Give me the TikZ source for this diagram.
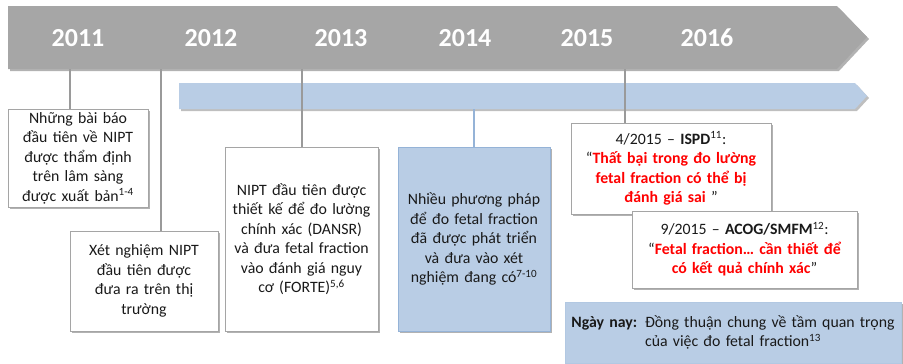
\documentclass[tikz,border=0pt]{standalone}
\usepackage{fontspec}
\setmainfont{Carlito}
\usetikzlibrary{shadows}
\definecolor{axisgray}{HTML}{A6A6A6}
\definecolor{barblue}{HTML}{B9CDE5}
\definecolor{edgeblue}{HTML}{95B3D7}
\definecolor{linegray}{HTML}{9A9A9A}
\definecolor{boxgray}{HTML}{A5A5A5}
\definecolor{quotered}{HTML}{FF0000}
\newcommand\refsup[1]{\textsuperscript{#1}}
\newcommand\redq[1]{\textcolor{quotered}{\bfseries #1}}

\tikzset{
  yearlabel/.style={text=white, font=\fontsize{26}{26}\selectfont\bfseries},
  eventbox/.style={draw=boxgray, fill=white, align=center, inner sep=0pt, line width=0.8pt,
    text=black!90, font=\fontsize{15.8}{19.5}\selectfont,
    drop shadow={shadow xshift=2pt, shadow yshift=-2pt, opacity=0.3, fill=black}},
  bluebox/.style={eventbox, fill=barblue, draw=edgeblue},
  yearline/.style={draw=linegray, line width=2pt},
  blueline/.style={draw=edgeblue, line width=2pt}
}

\begin{document}
\begin{tikzpicture}[x=1pt, y=-1pt]
\useasboundingbox (0,0) rectangle (903,364);

% Mũi tên thời gian
\fill[axisgray, drop shadow={shadow xshift=2pt, shadow yshift=-2pt, opacity=0.3, fill=black}]
  (8,6) -- (837,6) -- (867,37) -- (837,69) -- (8,69) -- cycle;

% Các năm
\node[yearlabel] (y2011) at (78,38) {2011};
\node[yearlabel] (y2012) at (211,38) {2012};
\node[yearlabel] (y2013) at (341,38) {2013};
\node[yearlabel] (y2014) at (465,38) {2014};
\node[yearlabel] (y2015) at (587,38) {2015};
\node[yearlabel] (y2016) at (707,38) {2016};

% Thanh fetal fraction
\fill[barblue, drop shadow={shadow xshift=2pt, shadow yshift=-2pt, opacity=0.25, fill=black}]
  (179,83) -- (855,83) -- (867,96) -- (855,109) -- (179,109) -- cycle;

% Điểm mốc trên trục
\coordinate (t2011) at (70,69);
\coordinate (t2012) at (161,69);
\coordinate (t2013) at (302,69);
\coordinate (t2014) at (474,109);
\coordinate (t2015) at (625,69);

% Ô sự kiện
\node[eventbox, minimum width=140pt, minimum height=98pt, text width=136pt] (papers) at (78,158)
  {Những bài báo\\ đầu tiên về NIPT\\ được thẩm định\\ trên lâm sàng\\ được xuất bản\refsup{1-4}};
\node[eventbox, minimum width=148pt, minimum height=100pt, text width=144pt] (market) at (144,281)
  {Xét nghiệm NIPT\\ đầu tiên được\\ đưa ra trên thị\\ trường};
\node[eventbox, minimum width=153pt, minimum height=184pt, text width=149pt] (dansr) at (301.5,239)
  {NIPT đầu tiên được\\ thiết kế để đo lường\\ chính xác (DANSR)\\ và đưa fetal fraction\\ vào đánh giá nguy\\ cơ (FORTE)\refsup{5,6}};
\node[bluebox, minimum width=152pt, minimum height=184pt, text width=148pt] (methods) at (474,239)
  {Nhiều phương pháp\\ để đo fetal fraction\\ đã được phát triển\\ và đưa vào xét\\ nghiệm đang có\refsup{7-10}};

% Đường nối
\draw[yearline] (t2011) -- (t2011 |- papers.north);
\draw[yearline] (t2012) -- (t2012 |- market.north);
\draw[yearline] (t2013) -- (t2013 |- dansr.north);
\draw[blueline] (t2014) -- (t2014 |- methods.north);

% Khuyến cáo 2015
\node[eventbox, minimum width=200pt, minimum height=91pt, text width=196pt] (ispd) at (671,168.5)
  {4/2015 – \textbf{ISPD}\refsup{11}:\\
   “\redq{Thất bại trong đo lường}\\
   \redq{fetal fraction có thể bị}\\
   \redq{đánh giá sai} ”};
\draw[yearline] (t2015) -- (t2015 |- ispd.north);
\node[eventbox, minimum width=225pt, minimum height=77pt, text width=221pt] (acog) at (744.5,249.5)
  {9/2015 – \textbf{ACOG/SMFM}\refsup{12}:\\
   “\redq{Fetal fraction… cần thiết để}\\
   \redq{có kết quả chính xác}”};

% Ngày nay
\node[bluebox, draw=barblue!80!edgeblue, minimum width=336pt, minimum height=61pt, text width=332pt] (today) at (733,332.5)
  {\textbf{Ngày nay:} Đồng thuận chung về tầm quan trọng\\ của việc đo fetal fraction\refsup{13}};

\end{tikzpicture}
\end{document}
